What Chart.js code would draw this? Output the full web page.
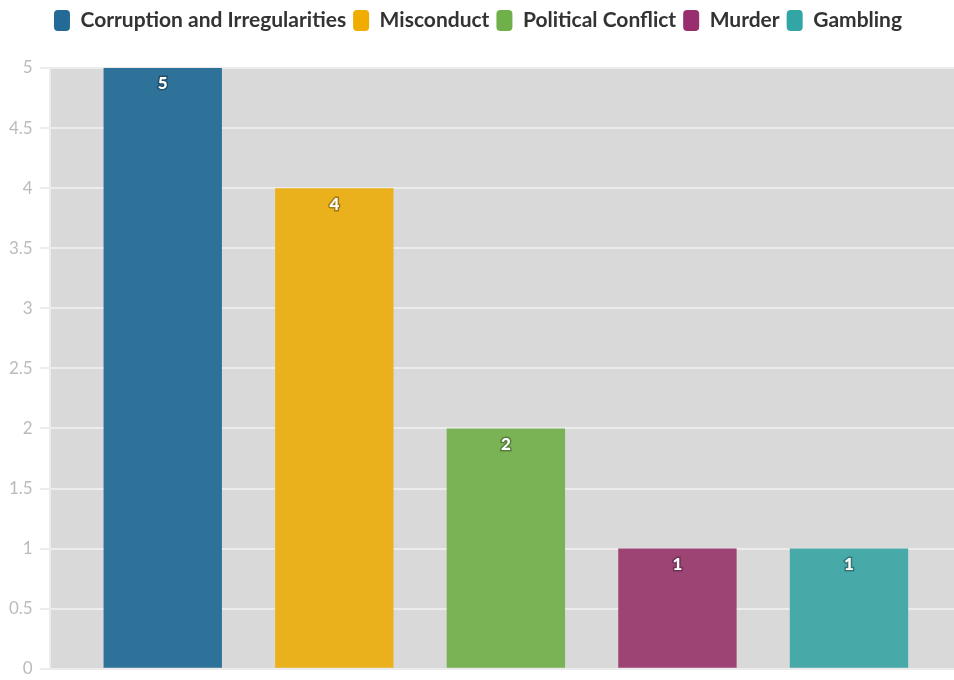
<!DOCTYPE html>
<html>
<head>
<meta charset="utf-8">
<script src="https://cdn.jsdelivr.net/npm/chart.js@4.4.0/dist/chart.umd.min.js"></script>
<style>
  html, body { margin: 0; padding: 0; background: #fff; }
  #wrap { width: 954px; height: 680px; }
</style>
</head>
<body>
<div id="wrap"><canvas id="myChart"></canvas></div>
<script>
const categories = ["Corruption and Irregularities", "Misconduct", "Political Conflict", "Murder", "Gambling"];
const counts = [5, 4, 2, 1, 1];
const legendColors = ["#236b96", "#f0ad00", "#70b04a", "#982e6e", "#31a6a4"];
const barColors = ["#2f7299", "#eab11d", "#7ab355", "#9c4474", "#48a9a9"];
const yTicks = [0, 0.5, 1, 1.5, 2, 2.5, 3, 3.5, 4, 4.5, 5];

const ctx = document.getElementById('myChart');

// grey plot background
const plotBackground = {
  id: 'plotBackground',
  beforeDraw(chart) {
    const a = chart.chartArea;
    chart.ctx.save();
    chart.ctx.fillStyle = '#d9d9d9';
    chart.ctx.fillRect(a.left, a.top, a.right - a.left, a.bottom - a.top);
    chart.ctx.restore();
  }
};

// more room under the legend, and nudge the bar group a little to the right
const layoutTweaks = {
  id: 'layoutTweaks',
  beforeInit(chart) {
    const origFit = chart.legend.fit;
    chart.legend.fit = function () {
      origFit.bind(chart.legend)();
      this.height += 27;
    };
  },
  afterLayout(chart) {
    chart.scales.x._startPixel += 4;
  }
};

// white value labels just inside the top of each bar
const valueLabels = {
  id: 'valueLabels',
  afterDatasetsDraw(chart) {
    const c = chart.ctx;
    c.save();
    c.font = '900 17px Lato';
    c.textAlign = 'center';
    c.textBaseline = 'middle';
    chart.data.datasets.forEach((ds, i) => {
      const bar = chart.getDatasetMeta(i).data[0];
      c.lineWidth = 3;
      c.strokeStyle = 'rgba(0,0,0,0.3)';
      c.strokeText(ds.data[0], bar.x, bar.y + 16);
      c.fillStyle = '#fff';
      c.fillText(ds.data[0], bar.x, bar.y + 16);
    });
    c.restore();
  }
};

new Chart(ctx, {
  type: 'bar',
  data: {
    labels: [''],
    datasets: categories.map((name, i) => ({
      label: name,
      data: [counts[i]],
      backgroundColor: barColors[i],
      borderColor: barColors[i],
      borderWidth: 0,
      categoryPercentage: 0.9486,
      barPercentage: 0.69
    }))
  },
  options: {
    responsive: true,
    maintainAspectRatio: false,
    animation: false,
    layout: {
      padding: { top: 3, bottom: 7, left: 2, right: 0 }
    },
    plugins: {
      tooltip: { enabled: false },
      legend: {
        position: 'top',
        labels: {
          color: '#333',
          font: { family: 'Lato', size: 21, weight: 'bold' },
          boxWidth: 16,
          boxHeight: 21,
          useBorderRadius: true,
          borderRadius: 4,
          padding: 7,
          generateLabels(chart) {
            return chart.data.datasets.map((ds, i) => ({
              text: ds.label,
              fillStyle: legendColors[i],
              strokeStyle: legendColors[i],
              lineWidth: 0,
              fontColor: '#333',
              hidden: false,
              datasetIndex: i,
              borderRadius: 4
            }));
          }
        }
      }
    },
    scales: {
      x: {
        display: false
      },
      y: {
        min: 0,
        max: 5,
        afterBuildTicks(axis) {
          axis.ticks = yTicks.map(v => ({ value: v }));
        },
        border: { display: true, color: '#ececec', width: 2 },
        grid: {
          color: '#ececec',
          lineWidth: 2,
          tickLength: 10
        },
        ticks: {
          color: '#bbb',
          padding: 7,
          font: { family: 'Lato', size: 17, lineHeight: 0.5 },
          callback: v => String(v)
        }
      }
    }
  },
  plugins: [plotBackground, layoutTweaks, valueLabels]
});
</script>
</body>
</html>
